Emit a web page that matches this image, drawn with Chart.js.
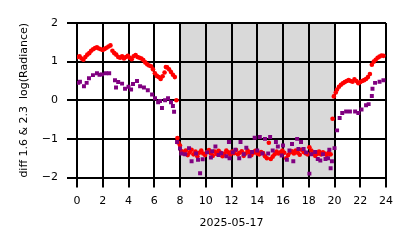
<!DOCTYPE html>
<html>
<head>
<meta charset="utf-8">
<script src="https://cdn.jsdelivr.net/npm/chart.js@4.4.1/dist/chart.umd.min.js"></script>
<style>
  html, body { margin: 0; padding: 0; background: #ffffff; }
  canvas { display: block; }
</style>
</head>
<body>
<canvas id="chart" width="414" height="248"></canvas>
<script>
// hour of day / log radiance difference
const redHours = [
    0.05, 0.2, 0.35, 0.5, 0.65, 0.8, 0.95, 1.1, 1.25, 1.4, 1.55, 1.7, 1.85, 2.0, 2.15, 2.3, 2.45, 2.6,
    2.75, 2.9, 3.05, 3.2, 3.35, 3.5, 3.65, 3.8, 3.95, 4.1, 4.25, 4.4, 4.55, 4.7, 4.85, 5.0, 5.15, 5.3,
    5.45, 5.6, 5.75, 5.9, 6.05, 6.2, 6.35, 6.5, 6.65, 6.8, 6.9, 7.0, 7.15, 7.3, 7.45, 7.6, 7.72, 7.8, 7.88,
    8.0, 8.15, 8.3, 8.45, 8.6, 8.75, 8.9, 9.05, 9.2, 9.35, 9.5, 9.65, 9.8, 9.95, 10.1, 10.25, 10.4, 10.55,
    10.7, 10.85, 11.0, 11.15, 11.3, 11.45, 11.6, 11.75, 11.9, 12.05, 12.2, 12.35, 12.5, 12.65, 12.8, 12.95,
    13.1, 13.25, 13.4, 13.55, 13.7, 13.85, 14.0, 14.15, 14.3, 14.45, 14.6, 14.75, 14.9, 15.05, 15.2, 15.35,
    15.5, 15.65, 15.8, 15.95, 16.1, 16.25, 16.4, 16.55, 16.7, 16.85, 17.0, 17.15, 17.3, 17.45, 17.6, 17.75,
    17.9, 18.05, 18.2, 18.35, 18.5, 18.65, 18.8, 18.95, 19.1, 19.25, 19.4, 19.55, 19.7, 19.85, 19.95,
    20.1, 20.2, 20.35, 20.5, 20.65, 20.8, 20.95, 21.1, 21.25, 21.4, 21.55, 21.7, 21.85, 22.0, 22.15, 22.3,
    22.45, 22.6, 22.75, 22.9, 23.05, 23.2, 23.35, 23.5, 23.65, 23.8, 23.95
];
const redValues = [
    1.12, 1.14, 1.08, 1.05, 1.12, 1.18, 1.22, 1.28, 1.32, 1.35, 1.37, 1.34, 1.32, 1.30, 1.33, 1.36, 1.39, 1.42,
    1.28, 1.22, 1.18, 1.12, 1.10, 1.14, 1.08, 1.12, 1.15, 1.10, 1.06, 1.14, 1.17, 1.12, 1.10, 1.08, 1.04, 0.98,
    0.93, 0.90, 0.88, 0.80, 0.70, 0.63, 0.60, 0.55, 0.62, 0.72, 0.86, 0.85, 0.80, 0.73, 0.66, 0.60, 0.00, -0.98, -1.10,
    -1.17, -1.32, -1.38, -1.30, -1.42, -1.35, -1.28, -1.40, -1.33, -1.45, -1.36, -1.30, -1.38, -1.42, -1.34, -1.29,
    -1.37, -1.44, -1.33, -1.39, -1.31, -1.36, -1.45, -1.38, -1.30, -1.35, -1.41, -1.33, -1.37, -1.29, -1.40,
    -1.36, -1.32, -1.44, -1.38, -1.30, -1.35, -1.42, -1.36, -1.31, -1.38, -1.40, -1.34, -1.37, -1.45, -1.50,
    -1.10, -1.52, -1.46, -1.40, -1.33, -1.38, -1.35, -1.30, -1.36, -1.50, -1.42, -1.35, -1.32, -1.38, -1.30,
    -1.36, -1.41, -1.28, -1.34, -1.37, -1.40, -1.22, -1.30, -1.36, -1.44, -1.39, -1.33, -1.40, -1.35, -1.38,
    -1.42, -1.36, -1.40, -0.48,
    0.10, 0.20, 0.28, 0.35, 0.40, 0.44, 0.47, 0.50, 0.52, 0.50, 0.48, 0.54, 0.50, 0.44, 0.47, 0.50,
    0.52, 0.55, 0.60, 0.68, 0.92, 1.00, 1.05, 1.10, 1.13, 1.16, 1.15
];

const purpleHours = [
    0.1, 0.23, 0.54, 0.75, 0.93, 1.24, 1.55, 1.75, 1.94, 2.25, 2.5, 2.95, 3.03, 3.2, 3.5, 3.73, 4.0, 4.2,
    4.35, 4.66, 4.9, 5.2, 5.5, 5.83, 6.06, 6.3, 6.45, 6.6, 6.84, 7.07, 7.3, 7.45, 7.54, 7.77, 8.0,
    8.1, 8.4, 8.7, 8.9, 9.25, 9.4, 9.56, 9.76, 10.1, 10.4, 10.5, 10.75, 11.0, 11.2, 11.6, 11.8, 11.85,
    12.1, 12.3, 12.6, 12.7, 12.95, 13.15, 13.4, 13.6, 13.8, 14.0, 14.2, 14.4, 14.6, 14.85, 15.0, 15.2,
    15.45, 15.6, 15.9, 16.0, 16.3, 16.5, 16.7, 16.8, 17.1, 17.2, 17.4, 17.6, 17.8, 18.05, 18.2, 18.5,
    18.7, 18.9, 19.1, 19.3, 19.5, 19.6, 19.7, 19.8, 20.0,
    20.2, 20.4, 20.6, 20.9, 21.2, 21.6, 21.85, 22.1, 22.45, 22.65, 22.9, 22.95, 23.15, 23.5, 23.8
];
const purpleValues = [
    0.45, 0.48, 0.36, 0.45, 0.57, 0.65, 0.70, 0.66, 0.67, 0.70, 0.70, 0.52, 0.33, 0.47, 0.43, 0.30, 0.35, 0.28,
    0.42, 0.50, 0.36, 0.33, 0.26, 0.15, 0.05, -0.05, -0.02, -0.20, 0.00, 0.05, -0.05, -0.15, -0.30, -1.08, -1.25,
    -1.38, -1.40, -1.24, -1.58, -1.38, -1.54, -1.89, -1.53, -1.35, -1.48, -1.32, -1.20, -1.42, -1.37, -1.45, -1.08, -1.50,
    -1.35, -1.28, -1.50, -1.08, -1.40, -1.23, -1.45, -1.34, -0.97, -1.30, -0.95, -1.38, -1.00, -1.38, -0.95, -1.30,
    -1.08, -1.20, -1.43, -1.17, -1.54, -1.30, -1.13, -1.58, -1.00, -1.26, -1.08, -1.26, -1.35, -1.90, -1.40, -1.34,
    -1.52, -1.56, -1.40, -1.52, -1.50, -1.28, -1.76, -1.58, -1.24,
    -0.78, -0.46, -0.33, -0.29, -0.29, -0.29, -0.33, -0.24, -0.13, -0.10, 0.11, 0.30, 0.45, 0.48, 0.52
];

const xTicks = [0, 2, 4, 6, 8, 10, 12, 14, 16, 18, 20, 22, 24];
const yTicks = [-2, -1, 0, 1, 2];
const nightStart = 8;
const nightEnd = 20;

const toPoints = (xs, ys) => xs.map((x, i) => ({ x: x, y: ys[i] }));
const minus = (v) => String(v).replace('-', '\u2212');

// grey band behind the grid for the night hours
const nightBand = {
    id: 'nightBand',
    beforeDraw(chart) {
        const { ctx, chartArea, scales } = chart;
        const x1 = scales.x.getPixelForValue(nightStart);
        const x2 = scales.x.getPixelForValue(nightEnd);
        ctx.save();
        ctx.fillStyle = '#d9d9d9';
        ctx.fillRect(x1, chartArea.top, x2 - x1, chartArea.bottom - chartArea.top);
        ctx.restore();
    }
};

const font = { family: 'DejaVu Sans', size: 11 };

new Chart(document.getElementById('chart'), {
    type: 'scatter',
    data: {
        datasets: [
            {
                data: toPoints(purpleHours, purpleValues),
                pointStyle: 'rect',
                pointRadius: 2.8,
                pointBackgroundColor: '#800080',
                pointBorderWidth: 0
            },
            {
                data: toPoints(redHours, redValues),
                pointStyle: 'circle',
                pointRadius: 2.3,
                pointBackgroundColor: '#ff0000',
                pointBorderWidth: 0
            }
        ]
    },
    options: {
        responsive: false,
        animation: false,
        devicePixelRatio: 1,
        layout: { padding: { left: 0, right: 28, top: 23, bottom: 0 } },
        plugins: {
            legend: { display: false },
            tooltip: { enabled: false }
        },
        scales: {
            x: {
                type: 'linear',
                min: 0,
                max: 24,
                afterBuildTicks: (scale) => { scale.ticks = xTicks.map(v => ({ value: v })); },
                afterFit: (scale) => { scale.height = 70.5; },
                grid: { color: '#000000', lineWidth: 2, tickLength: 10 },
                border: { color: '#000000', width: 2 },
                ticks: { color: '#000000', font: font, padding: 7, maxRotation: 0, callback: (v) => minus(v) },
                title: {
                    display: true,
                    text: '2025-05-17',
                    color: '#000000',
                    font: font,
                    padding: { top: 0, bottom: 18.7 }
                }
            },
            y: {
                min: -2,
                max: 2,
                afterBuildTicks: (scale) => { scale.ticks = yTicks.map(v => ({ value: v })); },
                afterFit: (scale) => { scale.width = 77; },
                grid: { color: '#000000', lineWidth: 2, tickLength: 10 },
                border: { color: '#000000', width: 2 },
                ticks: { color: '#000000', font: font, padding: 9, callback: (v) => minus(v) },
                title: {
                    display: true,
                    text: 'diff 1.6 & 2.3  log(Radiance)',
                    color: '#000000',
                    font: font,
                    padding: { top: 17.4, bottom: 0 }
                }
            }
        }
    },
    plugins: [nightBand]
});
</script>
</body>
</html>
